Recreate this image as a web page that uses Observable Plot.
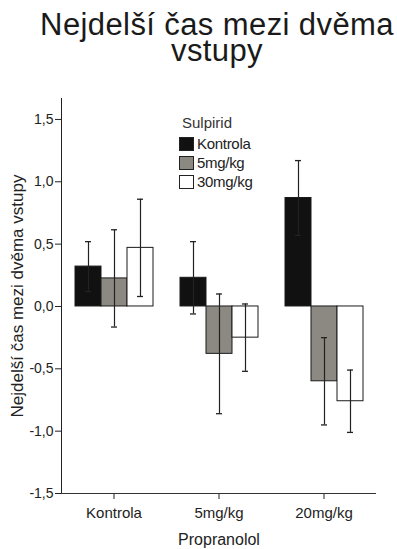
<!DOCTYPE html>
<html>
<head>
<meta charset="utf-8">
<script src="https://cdn.jsdelivr.net/npm/d3@7"></script>
<script src="https://cdn.jsdelivr.net/npm/@observablehq/plot@0.6"></script>
<style>
  html, body { margin: 0; padding: 0; background: #fff; }
  #wrap { position: relative; width: 397px; height: 549px; font-family: "Liberation Sans", Arial, sans-serif; color: #222; overflow: hidden; }
  #titlebox { position: relative; height: 88px; }
  #title { position: absolute; left: 0; top: 12px; width: 434px; text-align: center; white-space: pre; font-size: 31px; line-height: 26px; letter-spacing: 0.4px; color: #1a1a1a; }
  #legend { position: absolute; left: 179px; top: 114px; font-size: 15px; color: #222; }
  #legend .ttl { position: absolute; left: 3px; top: 0; white-space: nowrap; color: #333; }
  #legend .item { position: absolute; left: 0; white-space: nowrap; height: 15px; }
  #legend .sw { position: absolute; left: 0; top: 0; width: 13px; height: 12px; border: 1px solid #222; }
  #legend .lab { position: absolute; left: 18px; top: -2px; letter-spacing: -0.3px; }
  svg { display: block; }
  g[aria-label="y-axis tick label"], g[aria-label="y-axis tick label"] text { font-size: 14px; }
  g[aria-label="y-axis label"], g[aria-label="y-axis label"] text { font-size: 17px; }
  g[aria-label="fx-axis label"], g[aria-label="fx-axis label"] text { font-size: 16px; }
</style>
</head>
<body>
<div id="wrap">
  <div id="titlebox"><div id="title"></div></div>
  <div id="chart"></div>
  <div id="legend"></div>
</div>
<script>
// Propranolol groups (x facets)
const propranolol = ["Kontrola", "5mg/kg", "20mg/kg"];
// Sulpirid series (bars within group)
const sulpirid = ["Kontrola", "5mg/kg", "30mg/kg"];
const seriesColors = ["#111111", "#8c8982", "#ffffff"];

// Means per sulpirid series, in propranolol order
const meanKontrola = [0.32, 0.23, 0.87];
const mean5mg = [0.225, -0.38, -0.60];
const mean30mg = [0.47, -0.25, -0.76];
// Error half-widths
const errKontrola = [0.20, 0.29, 0.30];
const err5mg = [0.39, 0.48, 0.35];
const err30mg = [0.39, 0.27, 0.25];

const yTicks = [-1.5, -1.0, -0.5, 0.0, 0.5, 1.0, 1.5];
const titleLines = ["Nejdelší čas mezi dvěma", "vstupy"];
const yTitle = "Nejdelší čas mezi dvěma vstupy";
const xTitle = "Propranolol";

const means = [meanKontrola, mean5mg, mean30mg];
const errs = [errKontrola, err5mg, err30mg];
const data = [];
propranolol.forEach((p, i) => {
  sulpirid.forEach((s, j) => {
    data.push({prop: p, sulp: s, value: means[j][i], lo: means[j][i] - errs[j][i], hi: means[j][i] + errs[j][i]});
  });
});

// Title (one text block, two lines)
document.getElementById("title").textContent = titleLines.join("\n");

const chart = Plot.plot({
  width: 397,
  height: 461,
  marginTop: 10,
  marginBottom: 56,
  marginLeft: 60,
  marginRight: 20,
  style: {fontFamily: "Liberation Sans, Arial, sans-serif", fontSize: "15px", color: "#222", background: "#fff"},
  fx: {domain: propranolol, padding: 0, axis: "bottom", tickSize: 6, tickPadding: 8, label: xTitle, labelAnchor: "center", labelOffset: 51, labelArrow: false},
  x: {domain: sulpirid, paddingInner: 0, paddingOuter: 0.46, axis: null},
  y: {domain: [-1.5, 1.668], ticks: yTicks, tickFormat: d => d.toFixed(1).replace(".", ","), tickSize: 6, tickPadding: 2, line: true, label: yTitle, labelAnchor: "center", labelOffset: 51, labelArrow: false},
  color: {domain: sulpirid, range: seriesColors},
  marks: [
    Plot.ruleY([-1.5], {stroke: "#333", strokeWidth: 1}),
    Plot.barY(data, {fx: "prop", x: "sulp", y: "value", fill: "sulp", stroke: "#1a1a1a", strokeWidth: 1}),
    Plot.ruleX(data, {fx: "prop", x: "sulp", y1: "lo", y2: "hi", stroke: "#222", strokeWidth: 1.2}),
    Plot.tickY(data, {fx: "prop", x: "sulp", y: "lo", stroke: "#222", strokeWidth: 1.3, insetLeft: 10, insetRight: 10}),
    Plot.tickY(data, {fx: "prop", x: "sulp", y: "hi", stroke: "#222", strokeWidth: 1.3, insetLeft: 10, insetRight: 10})
  ]
});
document.getElementById("chart").appendChild(chart);

// Legend built from the series arrays
const legend = document.getElementById("legend");
const ttl = document.createElement("div");
ttl.className = "ttl";
ttl.textContent = "Sulpirid";
legend.appendChild(ttl);
sulpirid.forEach((s, j) => {
  const item = document.createElement("div");
  item.className = "item";
  item.style.top = (23 + j * 19) + "px";
  const sw = document.createElement("div");
  sw.className = "sw";
  sw.style.background = seriesColors[j];
  const lab = document.createElement("div");
  lab.className = "lab";
  lab.textContent = s;
  item.appendChild(sw);
  item.appendChild(lab);
  legend.appendChild(item);
});
</script>
</body>
</html>
